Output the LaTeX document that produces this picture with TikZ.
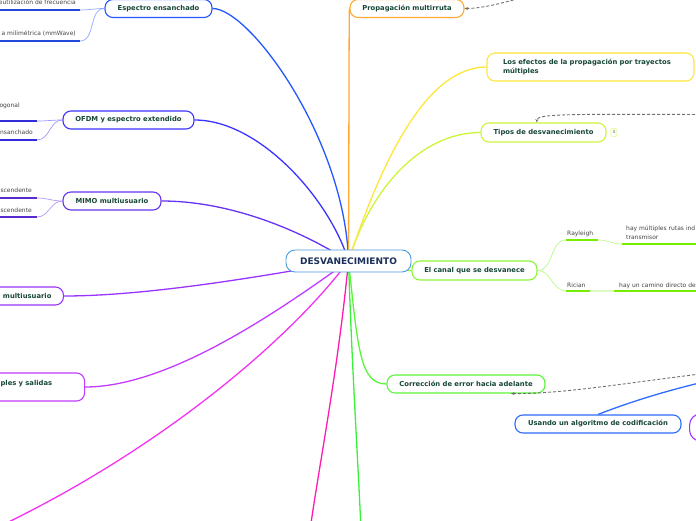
\documentclass[tikz,border=0pt]{standalone}
\usepackage{fontspec}
\setmainfont{DejaVu Sans}
\usepackage{tikz}
\usetikzlibrary{positioning,arrows.meta,backgrounds}
\usepackage{xcolor}

\definecolor{txtgreen}{HTML}{17473A}
\definecolor{txtnavy}{HTML}{1B2F5A}
\definecolor{rootblue}{HTML}{4A9BE0}
\definecolor{cEsp}{HTML}{2457FF}
\definecolor{cOfdm}{HTML}{3B33FF}
\definecolor{cMimo}{HTML}{6633F5}
\definecolor{cMulti}{HTML}{9933FF}
\definecolor{cSal}{HTML}{C23BFF}
\definecolor{cMag}{HTML}{F433F0}
\definecolor{cPink}{HTML}{FF1AB4}
\definecolor{cGreen}{HTML}{3BF03B}
\definecolor{cCorr}{HTML}{5CF53A}
\definecolor{cCanal}{HTML}{8CF53A}
\definecolor{cRay}{HTML}{77EE00}
\definecolor{cTipos}{HTML}{CCF53A}
\definecolor{cEfec}{HTML}{FFE63A}
\definecolor{cProp}{HTML}{FFA833}
\definecolor{cUsa}{HTML}{2E6BFF}
\definecolor{cPurp}{HTML}{A033FF}
\definecolor{leafgray}{HTML}{444444}
\definecolor{dashgray}{HTML}{707070}

\begin{document}
\begin{tikzpicture}[x=1pt,y=1pt,>={Stealth[length=3.5pt,width=3pt]},
  topic/.style={draw=#1, rounded corners=8pt, line width=1.1pt, fill=white,
    text=txtgreen, font=\fontsize{6.8}{9}\selectfont\bfseries,
    minimum height=18pt, inner xsep=0pt, inner ysep=3pt},
  branch/.style={draw=#1, line width=1.3pt},
  leaf/.style={text=leafgray, font=\fontsize{6}{8.5}\selectfont, inner sep=0pt},
  under/.style={draw=#1, line width=1.6pt},
  twig/.style={draw=#1, line width=0.7pt},
  dasharrow/.style={draw=dashgray, dash pattern=on 3pt off 2pt, line width=0.9pt, ->}]
\useasboundingbox (0,0) rectangle (696,520);

\node[topic=rootblue, minimum width=125pt, minimum height=22pt, rounded corners=9pt, line width=0.9pt,
  text=txtnavy, font=\fontsize{9}{10}\selectfont\bfseries] (root) at (348.5,259) {DESVANECIMIENTO};

\node[topic=cEsp, minimum width=107pt] (espectro) at (158.5,511.5) {Espectro ensanchado};
\node[topic=cOfdm, minimum width=131pt] (ofdm) at (128.5,400) {OFDM y espectro extendido};
\node[topic=cMimo, minimum width=98pt] (mimo) at (112,319) {MIMO multiusuario};
\node[topic=cMulti, anchor=east, inner xsep=12pt] (multi) at (64,224) {multiusuario};
\node[topic=cSal, anchor=west, text width=72pt, align=left, inner xsep=12pt,
  text height=8pt, text depth=12pt, inner ysep=4pt] (salidas) at (-12,133) {ples y salidas};
\node[topic=cCanal, minimum width=125pt, minimum height=19pt] (canal) at (474.5,249.5) {El canal que se desvanece};
\node[topic=cTipos, minimum width=125pt, minimum height=19pt] (tipos) at (543.5,387.5) {Tipos de desvanecimiento};
\node[draw=cTipos!70, rounded corners=1.5pt, line width=0.5pt, minimum width=6pt, minimum height=8pt,
  inner sep=0pt, font=\fontsize{4}{4}\selectfont, text=leafgray, right=4pt of tipos] (cuenta) {3};
\node[topic=cEfec, text width=175pt, align=left, inner xsep=16pt, minimum height=28pt] (efectos) at (590.5,453)
  {Los efectos de la propagación por trayectos\\múltiples};
\node[topic=cProp, minimum width=114pt] (propag) at (407,511.5) {Propagación multirruta};
\node[topic=cCorr, minimum width=158pt] (correc) at (466,136) {Corrección de error hacia adelante};
\node[topic=cUsa, minimum width=166pt] (usando) at (598,96) {Usando un algoritmo de codificación};
\node[topic=cPurp, anchor=west, minimum width=60pt, minimum height=27pt, rounded corners=11pt] (otro) at (689,92.5) {};

\coordinate (fin1) at (-30,-20);
\coordinate (fin2) at (310,-10);
\coordinate (fin3) at (361,-10);
\coordinate (fin4) at (712,140);
\coordinate (src1) at (528,524);
\coordinate (src2) at (700,405.5);
\coordinate (src3) at (700,146);

\node[leaf, anchor=base east] (e1) at (76,515) {eutilización de frecuencia};
\node[leaf, anchor=base east] (e2) at (76,484) {a milimétrica (mmWave)};
\coordinate (e1u) at (80,510);
\coordinate (e2u) at (80,479);
\draw[under=cEsp!85!black] (e1u) -- ++(-82,0);
\draw[under=cEsp!85!black] (e2u) -- ++(-82,0);

\node[leaf, anchor=base east] (o1) at (20,412) {ogonal};
\node[leaf, anchor=base east] (o2) at (33,385) {nsanchado};
\coordinate (o1u) at (37,399);
\coordinate (o2u) at (37,380);
\draw[under=cOfdm!85!black] (o1u) -- ++(-39,0);
\draw[under=cOfdm!85!black] (o2u) -- ++(-39,0);

\node[leaf, anchor=base east] (m1) at (32,327) {scendente};
\node[leaf, anchor=base east] (m2) at (32,307) {scendente};
\coordinate (m1u) at (37,322);
\coordinate (m2u) at (37,303);
\draw[under=cMimo!85!black] (m1u) -- ++(-39,0);
\draw[under=cMimo!85!black] (m2u) -- ++(-39,0);

\node[leaf, anchor=base west] (ray) at (567,284.5) {Rayleigh};
\node[leaf, anchor=base west] (ric) at (567,232) {Rician};
\node[leaf, anchor=north west, align=left] (rayt) at (626,294) {hay múltiples rutas ind\\transmisor};
\node[leaf, anchor=base west] (rict) at (619,232) {hay un camino directo de};
\coordinate (ray1) at (566,280);
\coordinate (ray2) at (598,280);
\coordinate (ray3) at (622,276);
\coordinate (ric1) at (566,229);
\coordinate (ric2) at (590,229);
\coordinate (ric3) at (614,229);
\draw[under=cRay] (ray1) -- (ray2);
\draw[under=cRay] (ray3) -- ++(80,0);
\draw[under=cRay] (ric1) -- (ric2);
\draw[under=cRay!25] (ric2) -- (ric3);
\draw[under=cRay] (ric3) -- ++(88,0);
\draw[twig=cRay!45] (ray2) to[out=0,in=180] (ray3);

\draw[twig=cEsp!50] (e1u) to[out=0,in=180] (espectro.west);
\draw[twig=cEsp!50] (e2u) to[out=0,in=180] (espectro.west);
\draw[twig=cOfdm!50] (o1u) to[out=0,in=180] (ofdm.west);
\draw[twig=cOfdm!50] (o2u) to[out=0,in=180] (ofdm.west);
\draw[twig=cMimo!50] (m1u) to[out=0,in=180] (mimo.west);
\draw[twig=cMimo!50] (m2u) to[out=0,in=180] (mimo.west);
\draw[twig=cCanal!60] (canal.east) to[out=0,in=180] (ray1);
\draw[twig=cCanal!60] (canal.east) to[out=0,in=180] (ric1);

\begin{pgfonlayer}{background}
\draw[branch=cEsp] (root.center) .. controls (345,380) and (250,511.5) .. (espectro.east);
\draw[branch=cOfdm] (root.center) .. controls (330,320) and (260,400) .. (ofdm.east);
\draw[branch=cMimo] (root.center) .. controls (300,290) and (230,319) .. (mimo.east);
\draw[branch=cMulti] (root.center) .. controls (270,245) and (150,224) .. (multi.east);
\draw[branch=cSal] (root.center) .. controls (280,210) and (170,133) .. (salidas.east);
\draw[branch=cMag] (root.center) .. controls (290,180) and (150,60) .. (fin1);
\draw[branch=cPink] (root.center) .. controls (338,150) and (320,60) .. (fin2);
\draw[branch=cGreen] (root.center) .. controls (352,150) and (358,60) .. (fin3);
\draw[branch=cCorr] (root.center) .. controls (358,170) and (360,136) .. (correc.west);
\draw[branch=cCanal] (root.center) .. controls (390,259) and (395,249.5) .. (canal.west);
\draw[branch=cTipos] (root.center) .. controls (370,330) and (420,387.5) .. (tipos.west);
\draw[branch=cEfec] (root.center) .. controls (385,370) and (430,453) .. (efectos.west);
\draw[branch=cProp] (root.center) .. controls (349,400) and (349,505) .. (propag.west);
\draw[branch=cUsa] (usando.north) .. controls (625,116) and (660,128) .. (fin4);
\end{pgfonlayer}

\draw[dasharrow] (src1) .. controls (500,516) and (480,511.5) .. (propag.east);
\draw[dasharrow] (src2) .. controls (560,406) and (537,406) .. (tipos.124);
\draw[dasharrow] (src3) .. controls (620,136) and (560,126) .. (correc.-12);
\end{tikzpicture}
\end{document}
